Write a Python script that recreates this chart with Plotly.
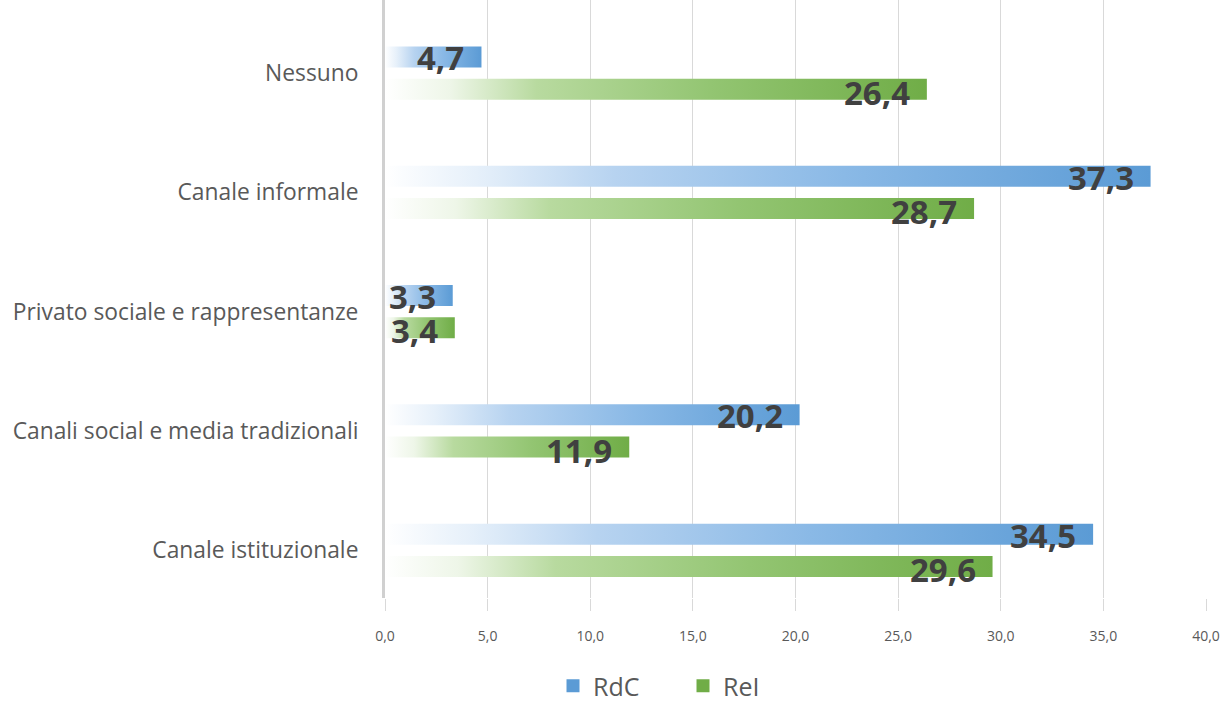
import plotly.graph_objects as go

categories = ["Canale istituzionale", "Canali social e media tradizionali",
              "Privato sociale e rappresentanze", "Canale informale", "Nessuno"]
rdc = [34.5, 20.2, 3.3, 37.3, 4.7]
rei = [29.6, 11.9, 3.4, 28.7, 26.4]
series_names = ["RdC", "ReI"]
x_ticks = [0, 5, 10, 15, 20, 25, 30, 35, 40]

blue_scale = [[0, "#ffffff"], [0.12, "#e6f0fa"], [0.3, "#b7d3f0"], [0.6, "#8ab9e6"], [1, "#5b9bd5"]]
green_scale = [[0, "#ffffff"], [0.12, "#eef6e8"], [0.28, "#b8da9f"], [0.6, "#93c572"], [1, "#70ad47"]]
colors = ["#5b9bd5", "#70ad47"]

OFF = 0.135
H = 0.088

fig = go.Figure()
for s_idx, (name, vals, scale) in enumerate(
        [(series_names[0], rdc, blue_scale), (series_names[1], rei, green_scale)]):
    col = colors[s_idx]
    off = OFF if s_idx == 0 else -OFF
    for i, v in enumerate(vals):
        yc = i + off
        fig.add_trace(go.Scatter(
            x=[0, v, v, 0, 0],
            y=[yc - H, yc - H, yc + H, yc + H, yc - H],
            mode="lines", line=dict(width=0, color=col),
            fill="toself", fillcolor=col,
            fillgradient=dict(type="horizontal", colorscale=scale),
            name=name, legendgroup=name, showlegend=False,
            hoverinfo="skip",
        ))
        fig.add_annotation(
            x=v, y=yc, text=f"{v:.1f}".replace(".", ","),
            xanchor="right", yanchor="middle", xshift=-15,
            yshift=-1 if s_idx == 0 else -3,
            showarrow=False,
            font=dict(family="Open Sans", size=33, color="#404040", weight="bold"),
        )
    # legend entry (square swatch)
    fig.add_trace(go.Scatter(
        x=[None], y=[None], mode="markers",
        marker=dict(symbol="square", size=13, color=col),
        name=name, legendgroup=name, showlegend=True, hoverinfo="skip",
    ))

fig.update_layout(
    width=1226, height=702,
    margin=dict(l=385, r=20, t=0, b=104, autoexpand=False),
    plot_bgcolor="white", paper_bgcolor="white",
    separators=",.",
    showlegend=True,
    legend=dict(orientation="h", xref="container", x=553 / 1226, xanchor="left",
                yref="container", y=1 - 686 / 702, yanchor="middle",
                font=dict(family="Open Sans", size=25, color="#595959"),
                entrywidthmode="pixels", entrywidth=85),
    xaxis=dict(range=[0, 40], tickvals=x_ticks, tickformat=".1f",
               showgrid=True, gridcolor="#d9d9d9", gridwidth=1.3,
               zeroline=False, ticks="outside", ticklen=12, tickcolor="#d9d9d9",
               tickfont=dict(family="Open Sans", size=14, color="#595959"),
               ticklabelstandoff=13, fixedrange=True, automargin=False),
    yaxis=dict(range=[-0.40, 4.612], tickvals=list(range(len(categories))),
               ticktext=categories, showgrid=False, zeroline=False,
               showline=True, linecolor="#d0d0d0", linewidth=3,
               ticks="", ticklabelstandoff=19, fixedrange=True, automargin=False,
               tickfont=dict(family="Open Sans", size=22.8, color="#595959")),
)

fig.write_html("out.html", config={"displayModeBar": False},
               post_script="document.body.style.margin='0';document.body.style.padding='0';")
